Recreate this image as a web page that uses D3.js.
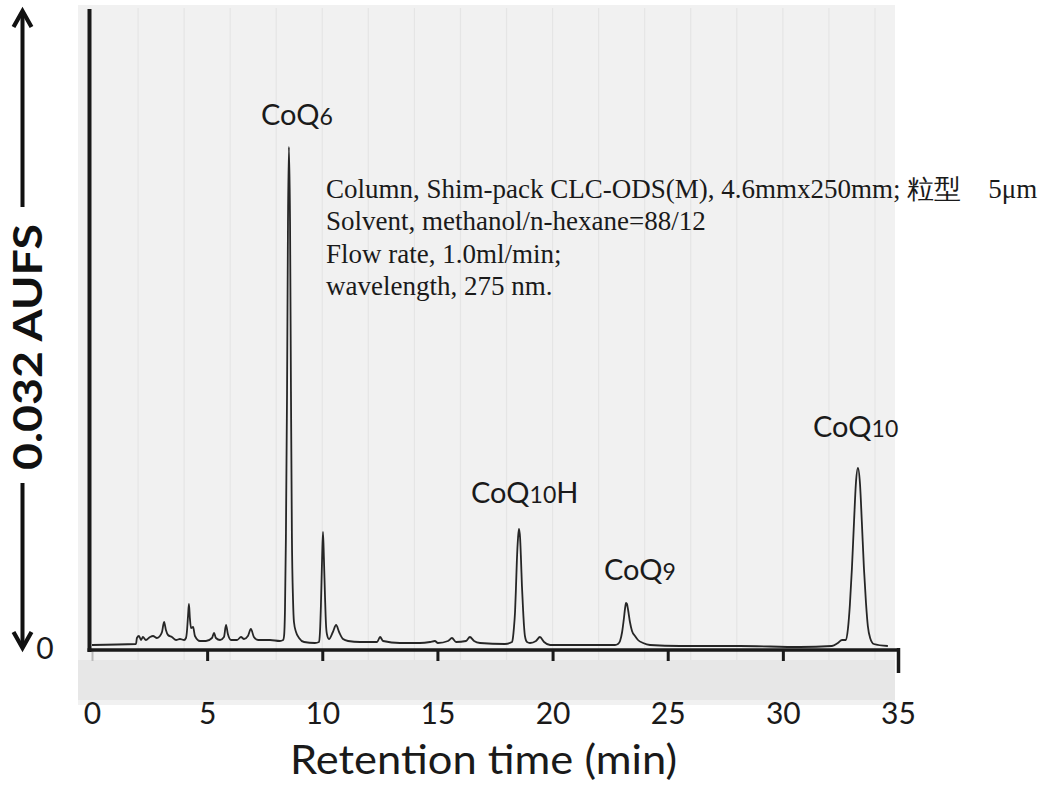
<!DOCTYPE html>
<html>
<head>
<meta charset="utf-8">
<script src="https://cdn.jsdelivr.net/npm/d3@7"></script>
<style>
  html, body { margin: 0; padding: 0; background: #ffffff; }
  svg { display: block; }
</style>
</head>
<body>
<svg id="chart" width="1044" height="785"></svg>
<script>
// ---------------- data ----------------
// retention time (min) and detector signal (mAU, full scale 32 mAU = 0.032 AUFS)
const retentionTime = [
  0.00, 1.91, 1.95, 2.04, 2.13, 2.21, 2.34, 2.52, 2.65, 2.82, 2.95, 3.04, 3.13, 3.21, 3.30, 3.47, 3.65, 3.82, 4.00,
  4.08, 4.12, 4.17, 4.21, 4.25, 4.30, 4.39, 4.47, 4.69, 4.95, 5.21, 5.30, 5.38, 5.56, 5.73, 5.82, 5.90, 6.04, 6.30,
  6.47, 6.60, 6.77, 6.90, 7.03, 7.21, 7.73, 8.16, 8.30, 8.34, 8.38, 8.42, 8.47, 8.51, 8.55, 8.60, 8.64, 8.68, 8.73,
  8.77, 8.86, 8.99, 9.21, 9.68, 9.86, 9.90, 9.94, 9.99, 10.03, 10.07, 10.12, 10.16, 10.20, 10.29, 10.46, 10.60,
  10.73, 10.90, 11.12, 11.64, 12.38, 12.51, 12.64, 13.37, 14.24, 14.68, 14.89, 15.02, 15.46, 15.63, 15.81, 16.24,
  16.41, 16.59, 16.85, 17.93, 18.24, 18.28, 18.32, 18.37, 18.41, 18.45, 18.50, 18.54, 18.59, 18.63, 18.67, 18.72,
  18.76, 18.80, 18.89, 19.02, 19.28, 19.45, 19.63, 19.89, 21.19, 22.71, 22.84, 22.93, 23.02, 23.10, 23.15, 23.19,
  23.23, 23.28, 23.36, 23.45, 23.58, 23.71, 23.93, 24.23, 25.53, 28.14, 30.74, 32.13, 32.39, 32.57, 32.74, 32.83,
  32.91, 33.00, 33.09, 33.17, 33.26, 33.35, 33.43, 33.52, 33.61, 33.69, 33.79, 33.95, 34.56
];
const signalMAU = [
  0.25, 0.30, 0.60, 0.70, 0.50, 0.65, 0.50, 0.65, 0.70, 0.60, 0.70, 0.90, 1.40, 1.00, 0.75, 0.65, 0.50, 0.55, 0.50,
  0.60, 0.90, 1.70, 2.30, 1.60, 1.10, 1.15, 0.70, 0.45, 0.45, 0.60, 0.85, 0.60, 0.50, 0.65, 1.25, 0.80, 0.50, 0.50,
  0.65, 0.55, 0.70, 1.05, 0.65, 0.50, 0.50, 0.45, 0.50, 0.70, 2.00, 5.60, 12.90, 21.30, 25.15, 21.30, 12.90, 5.80,
  2.50, 1.40, 0.90, 0.60, 0.40, 0.35, 0.40, 0.90, 2.20, 4.50, 5.90, 4.60, 2.60, 1.30, 0.80, 0.55, 0.90, 1.25,
  0.90, 0.55, 0.45, 0.40, 0.40, 0.65, 0.45, 0.35, 0.35, 0.40, 0.45, 0.35, 0.45, 0.60, 0.40, 0.45,
  0.65, 0.45, 0.35, 0.30, 0.40, 0.62, 1.08, 1.90, 3.10, 4.47, 5.60, 6.05, 5.60, 4.50, 3.20, 2.00,
  1.20, 0.70, 0.40, 0.35, 0.45, 0.65, 0.40, 0.25, 0.25, 0.25, 0.30, 0.45, 0.90, 1.60, 2.10, 2.35,
  2.30, 2.00, 1.40, 0.95, 0.70, 0.50, 0.35, 0.25, 0.20, 0.20, 0.15, 0.20, 0.35, 0.50, 0.50, 1.10,
  2.25, 4.10, 6.40, 8.30, 9.10, 8.30, 6.40, 4.10, 2.35, 1.20, 0.60, 0.30, 0.20
];
const xTicks = [0, 5, 10, 15, 20, 25, 30, 35];
const gridMinutes = [2, 4, 6, 8, 10, 12, 14, 16, 18, 20, 22, 24, 26, 28, 30, 32, 34];
const peakNames = ["CoQ", "CoQ", "CoQ", "CoQ"];
const peakSubs = ["6", "10H", "9", "10"];
const peakTimes = [8.55, 18.54, 23.19, 33.22];
const conditions = [
  "Column, Shim-pack CLC-ODS(M), 4.6mmx250mm; 粒型\u30005μm",
  "Solvent, methanol/n-hexane=88/12",
  "Flow rate, 1.0ml/min;",
  "wavelength, 275 nm."
];
const yLabel = "0.032 AUFS";
const xLabel = "Retention time (min)";

// ---------------- drawing ----------------
const svg = d3.select("#chart");
const x = d3.scaleLinear().domain([0, 35]).range([92, 898]);
const y = d3.scaleLinear().domain([0, 32]).range([650, 10]);
const sans = "Lato, 'Open Sans', sans-serif";

// plot paper background
svg.append("rect").attr("x", 78).attr("y", 5).attr("width", 817).attr("height", 655).attr("fill", "#f1f1f1");
// lower band
svg.append("rect").attr("x", 78).attr("y", 660).attr("width", 817).attr("height", 40).attr("fill", "#e7e7e7");
svg.append("rect").attr("x", 78).attr("y", 700).attr("width", 817).attr("height", 5).attr("fill", "#f1f1f1");

// faint chart-paper grid
svg.append("g").selectAll("line").data(gridMinutes).join("line")
  .attr("x1", d => x(d)).attr("x2", d => x(d))
  .attr("y1", 8).attr("y2", 660)
  .attr("stroke", "#e5e5e5").attr("stroke-width", 1.2);

// trace
const pts = retentionTime.map((t, i) => [t, signalMAU[i]]);
const line = d3.line().x(d => x(d[0])).y(d => y(d[1])).curve(d3.curveMonotoneX);
svg.append("path").datum(pts).attr("d", line)
  .attr("fill", "none").attr("stroke", "#262626").attr("stroke-width", 1.8).attr("stroke-linejoin", "round");

// x axis
const xAxis = d3.axisBottom(x).tickValues(xTicks).tickSize(11).tickFormat(d3.format("d"));
const gx = svg.append("g").attr("transform", "translate(0,650)").call(xAxis);
gx.select(".domain").remove();
gx.selectAll(".tick line").attr("stroke", "#1a1a1a").attr("stroke-width", 3);
gx.selectAll(".tick").filter(d => d === 0).select("line").attr("stroke", "#bbbbbb").attr("stroke-width", 2);
gx.selectAll(".tick").filter(d => d === 35).select("line").attr("y1", -2).attr("y2", 23).attr("stroke-width", 3.5);
gx.selectAll(".tick text").attr("y", 74).attr("dy", 0)
  .attr("font-family", sans).attr("font-size", 30).attr("fill", "#1a1a1a");
svg.append("line").attr("x1", 87.5).attr("x2", 899.5).attr("y1", 650).attr("y2", 650)
  .attr("stroke", "#1a1a1a").attr("stroke-width", 3.5);

// y axis line
svg.append("line").attr("x1", 89.5).attr("x2", 89.5).attr("y1", 9).attr("y2", 652)
  .attr("stroke", "#1a1a1a").attr("stroke-width", 4);
svg.append("text").attr("x", 45).attr("y", 659).attr("text-anchor", "middle")
  .attr("font-family", sans).attr("font-size", 30).attr("fill", "#1a1a1a").text("0");

// full-scale arrow with label
const ax = 22.5;
svg.append("line").attr("x1", ax).attr("x2", ax).attr("y1", 11).attr("y2", 207).attr("stroke", "#111").attr("stroke-width", 4);
svg.append("line").attr("x1", ax).attr("x2", ax).attr("y1", 483).attr("y2", 647).attr("stroke", "#111").attr("stroke-width", 4);
svg.append("path").attr("d", `M${ax - 9},${27} L${ax},${11} L${ax + 9},${27}`)
  .attr("fill", "none").attr("stroke", "#111").attr("stroke-width", 4.2);
svg.append("path").attr("d", `M${ax - 9},${632} L${ax},${648} L${ax + 9},${632}`)
  .attr("fill", "none").attr("stroke", "#111").attr("stroke-width", 4.2);
svg.append("text").attr("transform", "translate(42,347) rotate(-90)")
  .attr("text-anchor", "middle").attr("font-family", sans).attr("font-weight", 700)
  .attr("font-size", 40).attr("fill", "#111")
  .attr("textLength", 246).attr("lengthAdjust", "spacingAndGlyphs").text(yLabel);

// x label
svg.append("text").attr("x", 290).attr("y", 774)
  .attr("font-family", sans).attr("font-size", 41).attr("fill", "#1a1a1a")
  .attr("textLength", 387).attr("lengthAdjust", "spacingAndGlyphs").text(xLabel);

// peak labels
const labelPos = [[261, 125], [471, 503], [604, 580], [813, 437]];
peakNames.forEach((n, i) => {
  const t = svg.append("text").attr("x", labelPos[i][0]).attr("y", labelPos[i][1])
    .attr("font-family", sans).attr("font-size", 29).attr("fill", "#1a1a1a");
  t.append("tspan").text(n);
  const s = peakSubs[i];
  const digits = s.replace("H", "");
  t.append("tspan").attr("font-size", 23).text(digits);
  if (s.endsWith("H")) t.append("tspan").text("H");
});

// condition text
svg.append("g").selectAll("text").data(conditions).join("text")
  .attr("x", 326).attr("y", (d, i) => 198 + i * 32.3)
  .attr("font-family", "'Liberation Serif', 'Times New Roman', serif")
  .attr("font-size", 27).attr("fill", "#1a1a1a")
  .style("white-space", "pre")
  .text(d => d);
</script>
</body>
</html>
